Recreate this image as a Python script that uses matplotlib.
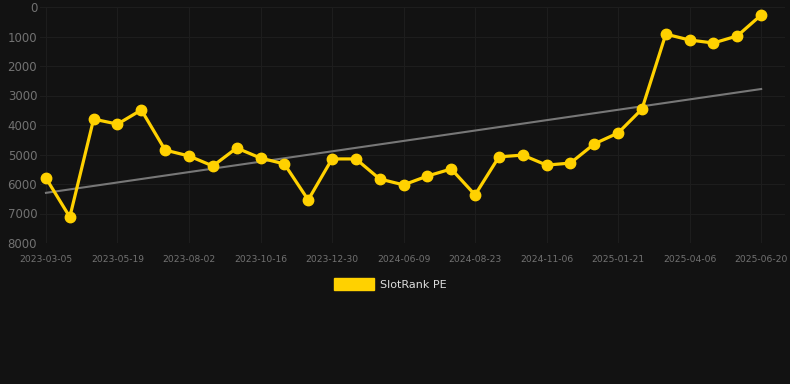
import numpy as np
import matplotlib.pyplot as plt
from matplotlib.patches import Patch

# ==========================================
# 数据
# ==========================================
dates = [
    "2023-03-05", "2023-04-12", "2023-04-29", "2023-05-19", "2023-06-08",
    "2023-06-27", "2023-08-02", "2023-08-21", "2023-09-10", "2023-10-16",
    "2023-11-04", "2023-11-24", "2023-12-30", "2024-03-10", "2024-04-25",
    "2024-06-09", "2024-07-01", "2024-07-24", "2024-08-23", "2024-09-15",
    "2024-10-10", "2024-11-06", "2024-11-30", "2024-12-25", "2025-01-21",
    "2025-02-14", "2025-03-12", "2025-04-06", "2025-04-30", "2025-05-25",
    "2025-06-20",
]
rank = [
    5800, 7120, 3800, 3970, 3490, 4850, 5050, 5390, 4780, 5120,
    5320, 6540, 5150, 5150, 5830, 6030, 5730, 5490, 6370, 5080,
    5020, 5360, 5290, 4640, 4270, 3460, 920, 1120, 1220, 980,
    270,
]
trend_ends = [6300, 2780]

BG = "#121212"
GRID = "#1d1d1d"
TXT = "#727272"
YELLOW = "#FFD100"

# ==========================================
# 绘图
# ==========================================
fig = plt.figure(figsize=(7.9, 3.84), dpi=100, facecolor=BG)
ax = fig.add_axes([40 / 790, 1 - 243 / 384, 745 / 790, 236 / 384])
ax.set_facecolor(BG)

x = np.arange(len(dates))
ax.plot([x[0], x[-1]], trend_ends, color="#777777", lw=1.5, zorder=2)
ax.plot(x, rank, color=YELLOW, lw=2.3, marker="o", ms=7.5, zorder=3)

ax.set_ylim(8000, 0)
ax.set_xlim(-0.25, 31.0)
ax.set_yticks(range(0, 8001, 1000))
ax.set_xticks(x[::3])
ax.set_xticklabels(dates[::3])

ax.grid(True, color=GRID, lw=0.8)
for s in ax.spines.values():
    s.set_visible(False)
ax.tick_params(axis="y", length=0, pad=2, labelsize=8.5, labelcolor=TXT)
ax.tick_params(axis="x", length=0, pad=9, labelsize=6.6, labelcolor=TXT)

fig.legend(handles=[Patch(color=YELLOW, label="SlotRank PE")],
           loc="center", bbox_to_anchor=(0.494, 1 - 284 / 384),
           frameon=False, fontsize=8, labelcolor="#dddddd",
           handlelength=3.6, handleheight=1.2, handletextpad=0.5)

fig.savefig("out.png", dpi=100, facecolor=BG)
